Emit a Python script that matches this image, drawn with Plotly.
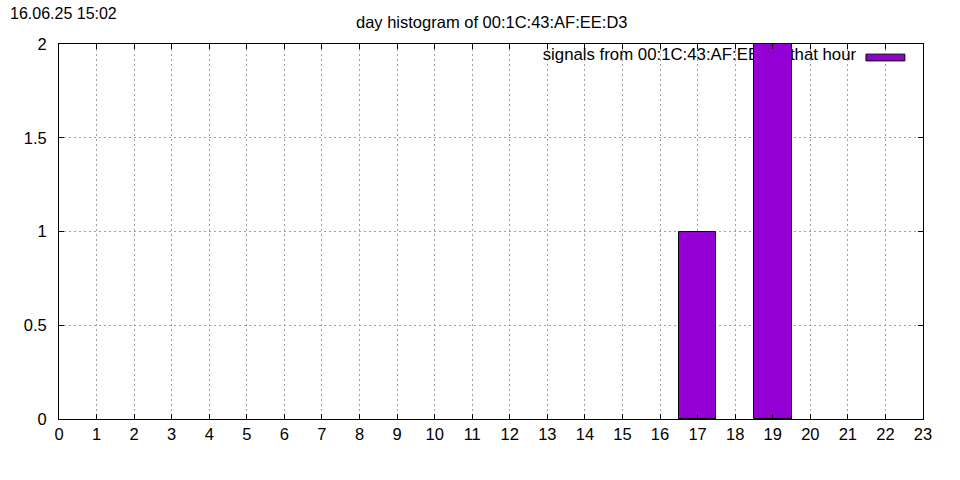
import plotly.graph_objects as go

hours = list(range(24))
counts = [0]*17 + [1, 0, 2] + [0]*4
x_ticks = list(range(0, 24))
y_ticks = [0, 0.5, 1, 1.5, 2]
y_tick_labels = ["0", "0.5", "1", "1.5", "2"]
title_text = "day histogram of 00:1C:43:AF:EE:D3"
timestamp = "16.06.25 15:02"
legend_label = "signals from 00:1C:43:AF:EE:D3 that hour"

FONT = "Liberation Sans, Arial, sans-serif"
BAR_COLOR = "#9400D3"

fig = go.Figure()

# legend text on base axes (drawn under the bars, which live on overlay axes)
fig.add_trace(go.Scatter(
    x=[21.22], y=[1.936], mode="text", text=[legend_label],
    textposition="middle left", textfont=dict(family=FONT, size=16.8, color="black"),
    showlegend=False, hoverinfo="skip", xaxis="x", yaxis="y"))

fig.add_trace(go.Bar(
    x=hours, y=counts, width=1,
    marker=dict(color=BAR_COLOR,
                line=dict(color="black", width=[1 if c > 0 else 0 for c in counts])),
    showlegend=False, xaxis="x2", yaxis="y2"))

axis_common = dict(showline=True, linecolor="black", linewidth=1, mirror="ticks",
                   ticks="inside", ticklen=5, tickcolor="black",
                   tickfont=dict(family=FONT, size=16.5, color="black"),
                   zeroline=False)

fig.update_layout(
    width=960, height=480,
    margin=dict(l=59, r=37, t=44, b=61),
    paper_bgcolor="white", plot_bgcolor="white",
    xaxis=dict(range=[0, 23], tickvals=x_ticks, showgrid=True,
               gridcolor="#a0a0a0", griddash="2px,3px", gridwidth=1,
               **axis_common),
    yaxis=dict(range=[0, 2], tickvals=y_ticks, ticktext=y_tick_labels,
               showgrid=True, gridcolor="#a0a0a0", griddash="2px,3px",
               gridwidth=1, ticklabelstandoff=8, **axis_common),
    xaxis2=dict(range=[0, 23], overlaying="x", visible=False),
    yaxis2=dict(range=[0, 2], overlaying="y", visible=False),
    bargap=0,
    shapes=[
        dict(type="rect", xref="paper", yref="paper", x0=0.447, x1=0.991,
             y0=0.944, y1=0.992, fillcolor="white", line=dict(width=0),
             layer="between"),
        dict(type="rect", xref="paper", yref="paper", x0=0.934, x1=0.979,
             y0=0.955, y1=0.973, fillcolor=BAR_COLOR,
             line=dict(color="black", width=1), layer="above"),
    ],
    annotations=[
        dict(text=title_text, xref="paper", yref="paper", x=0.5, y=1,
             yshift=33, showarrow=False, font=dict(family=FONT, size=16.5, color="black")),
        dict(text=timestamp, xref="paper", yref="paper", x=0, xshift=-51,
             y=1, yshift=41, xanchor="left", showarrow=False,
             font=dict(family=FONT, size=16, color="black")),
    ],
)

fig.write_html("out.html", config={"displayModeBar": False},
               post_script="document.body.style.margin='0';")
